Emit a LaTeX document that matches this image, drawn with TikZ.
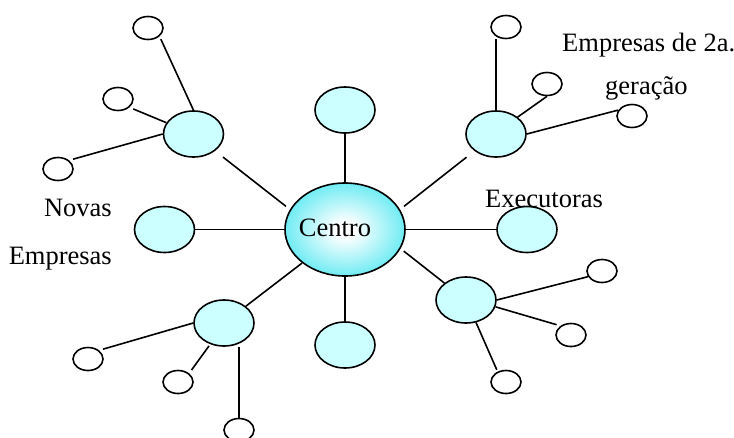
\documentclass[tikz,border=0pt]{standalone}
\usepackage{fontspec}
\setmainfont{Liberation Serif}
\usetikzlibrary{shapes.geometric,backgrounds}
\definecolor{lightblue}{RGB}{204,255,255}
\definecolor{cedge}{RGB}{10,222,235}
\pgfdeclareradialshading{centroshade}{\pgfpoint{0bp}{0bp}}{color(0bp)=(white); color(4bp)=(white); color(40bp)=(cedge); color(100bp)=(cedge)}
\tikzset{
  base/.style={draw=black, line width=1.6pt, ellipse, inner sep=0pt},
  centro/.style={base, shading=centroshade, minimum width=120pt, minimum height=93pt},
  blue/.style={base, fill=lightblue, minimum width=60pt, minimum height=46pt},
  small/.style={base, fill=white, minimum width=30pt, minimum height=23pt},
  lbl/.style={inner sep=0pt, font=\fontsize{26.5}{30}\selectfont},
  link/.style={draw=black, line width=1.6pt}
}
\begin{document}
\begin{tikzpicture}[x=1pt, y=-1pt]
\useasboundingbox (0,0) rectangle (734,437);
% centre and main satellites
\node[centro] (C) at (345,229.5) {};
\node[blue] (T) at (345,110) {};
\node[blue] (B) at (345,345) {};
\node[blue] (L) at (164.5,229.5) {};
\node[blue] (R) at (527,229.5) {};
\node[blue] (TL) at (193.5,134) {};
\node[blue] (TR) at (496,134) {};
\node[blue] (BL) at (224,323) {};
\node[blue] (BR) at (466,300) {};
% small satellites
\node[small] (TLa) at (148,28) {};
\node[small] (TLb) at (118,99) {};
\node[small] (TLc) at (58,169) {};
\node[small] (TRa) at (506,27) {};
\node[small] (TRb) at (547,84) {};
\node[small] (TRc) at (632,116) {};
\node[small] (BLa) at (88,359) {};
\node[small] (BLb) at (178,382) {};
\node[small] (BLc) at (239,430) {};
\node[small] (BRa) at (602,271) {};
\node[small] (BRb) at (571,335) {};
\node[small] (BRc) at (506,382) {};
% connectors
\begin{scope}[on background layer]
  \draw[link] (C) -- (T);
  \draw[link] (C) -- (B);
  \draw[link] (C) -- (L);
  \draw[link] (C) -- (R);
  \draw[link, shorten <=10pt, shorten >=5pt] (TL) -- (C.160);
  \draw[link, shorten <=10pt, shorten >=5pt] (TR) -- (C.20);
  \draw[link] (BL) -- (C.218);
  \draw[link, shorten >=4pt] (BR) -- (C.-19);
  % top-left group
  \draw[link, shorten >=3pt] (TL.north) -- (TLa.-36);
  \draw[link, shorten >=4pt] (TL) -- (TLb.-36);
  \draw[link, shorten <=4pt] (TLc.38) -- (TL.west);
  % top-right group
  \draw[link] (TR.north) -- (TR.north |- TRa.south);
  \draw[link] (TR.38) -- (TRb.south);
  \draw[link] (TR.east) -- (TRc.157);
  % bottom-left group
  \draw[link, shorten <=4pt] (BLa.38) -- (BL.west);
  \draw[link, shorten <=4pt, shorten >=2pt] (BLb.38) -- (BL.237);
  \draw[link] (BLc.north) -- (BLc.north |- BL.south);
  % bottom-right group
  \draw[link] (BR.east) -- (BRa.202);
  \draw[link, shorten >=4pt] (BR.-13) -- (BRb.139);
  \draw[link, shorten >=2pt] (BR.-66) -- (BRc.129);
\end{scope}
% labels
\node[lbl, anchor=base] (ct) at (335,236) {Centro};
\node[lbl, anchor=base east] (nv) at (112,216) {Novas};
\node[lbl, anchor=base east] (em) at (112,264) {Empresas};
\node[lbl, anchor=base west] (ex) at (485,207) {Executoras};
\node[lbl, anchor=base west] (e2) at (562,51) {Empresas de 2a.};
\node[lbl, anchor=base west] (ge) at (605,94) {geração};
\end{tikzpicture}
\end{document}
